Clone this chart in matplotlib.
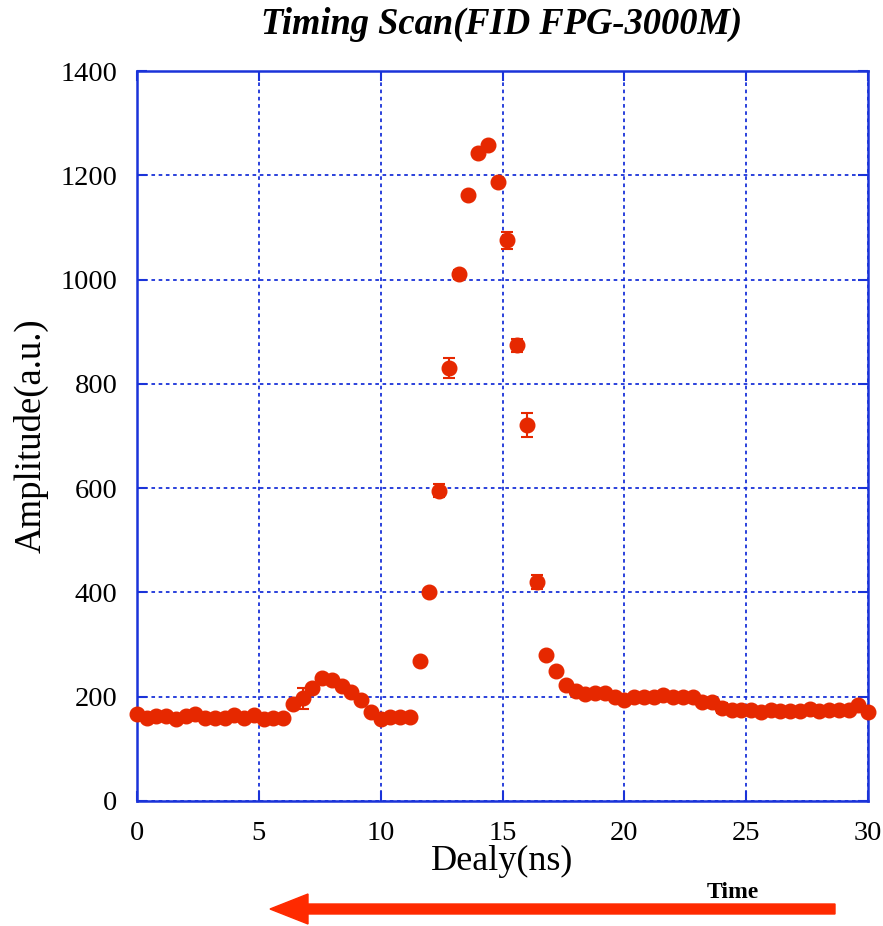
import matplotlib
matplotlib.use("Agg")
import matplotlib.pyplot as plt
from matplotlib.patches import FancyArrow

delay_ns = [0.0, 0.4, 0.8, 1.2, 1.6, 2.0, 2.4, 2.8, 3.2, 3.6, 4.0, 4.4, 4.8, 5.2, 5.6, 6.0,
            6.4, 6.8, 7.2, 7.6, 8.0, 8.4, 8.8, 9.2, 9.6, 10.0, 10.4, 10.8, 11.2, 11.6,
            12.0, 12.4, 12.8, 13.2, 13.6, 14.0, 14.4, 14.8, 15.2, 15.6, 16.0, 16.4, 16.8,
            17.2, 17.6, 18.0, 18.4, 18.8, 19.2, 19.6, 20.0, 20.4, 20.8, 21.2, 21.6, 22.0,
            22.4, 22.8, 23.2, 23.6, 24.0, 24.4, 24.8, 25.2, 25.6, 26.0, 26.4, 26.8, 27.2,
            27.6, 28.0, 28.4, 28.8, 29.2, 29.6, 30.0]
amplitude = [167, 160, 163, 163, 158, 163, 167, 160, 160, 160, 164, 160, 164, 158, 160, 160,
             186, 197, 217, 236, 233, 221, 210, 194, 171, 158, 162, 162, 162, 268,
             400, 595, 831, 1010, 1162, 1243, 1258, 1188, 1075, 874, 722, 420, 280,
             249, 222, 211, 206, 207, 207, 200, 194, 199, 199, 199, 203, 199,
             199, 199, 190, 190, 178, 175, 175, 175, 170, 175, 172, 172, 172,
             176, 172, 175, 175, 175, 184, 171]
amp_err = [4, 4, 4, 4, 4, 4, 4, 4, 4, 4, 4, 4, 4, 4, 4, 4,
           6, 20, 6, 4, 4, 4, 4, 4, 4, 4, 4, 4, 4, 4,
           6, 12, 19, 8, 4, 4, 4, 4, 16, 12, 23, 14, 4,
           4, 4, 4, 4, 4, 4, 4, 4, 4, 4, 4, 4, 4,
           4, 4, 4, 4, 10, 4, 4, 4, 4, 4, 4, 4, 4,
           4, 4, 4, 4, 4, 4, 4]
x_ticks = [0, 5, 10, 15, 20, 25, 30]
y_ticks = [0, 200, 400, 600, 800, 1000, 1200, 1400]

plt.rcParams['font.family'] = ['Liberation Serif', 'DejaVu Serif']

blue = '#1a33d9'
red = '#e62800'

fig = plt.figure(figsize=(8.83, 9.26), dpi=100)
ax = fig.add_axes([137/883, 1-801/926, (868-137)/883, (801-71)/926])

ax.errorbar(delay_ns, amplitude, yerr=amp_err, fmt='o', color=red, ms=10.5,
            mec=red, ecolor=red, elinewidth=1.5, capsize=4, capthick=1.5, zorder=3,
            clip_on=False)

ax.set_xlim(0, 30)
ax.set_ylim(0, 1400)
ax.set_xticks(x_ticks)
ax.set_yticks(y_ticks)
ax.grid(True, color=blue, linestyle=(0, (2, 2)), linewidth=1.3)
for s in ax.spines.values():
    s.set_color(blue)
    s.set_linewidth(1.8)
ax.tick_params(direction='in', length=7, width=1.5, color=blue, top=True, right=True,
               labelsize=20.5)
ax.tick_params(axis='x', pad=14.5)
ax.tick_params(axis='y', pad=14)

ax.set_xlabel('Dealy(ns)', fontsize=26, labelpad=-0.5)
ax.set_ylabel('Amplitude(a.u.)', fontsize=26.5, labelpad=9)
fig.text(0.568, 1-24/926, 'Timing Scan(FID FPG-3000M)', ha='center', va='center',
         fontsize=26.3, fontweight='bold', fontstyle='italic')

fig.text(733/883, 1-892/926, 'Time', ha='center', va='center', fontsize=17,
         fontweight='bold')
arrow = FancyArrow(835/883, 1-909/926, -(835-270)/883, 0, width=10/926,
                   head_width=30/926, head_length=38/883, length_includes_head=True,
                   color='#ff2a00', transform=fig.transFigure)
fig.patches.append(arrow)

fig.savefig('out.png', dpi=100)
